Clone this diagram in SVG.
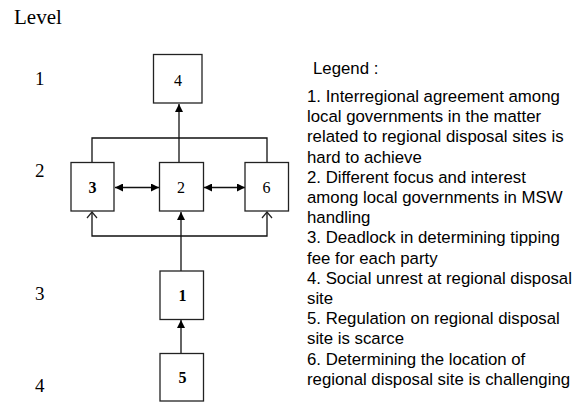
<svg xmlns="http://www.w3.org/2000/svg" width="586" height="403" viewBox="0 0 586 403">
  <style>
    .box { fill: #fff; stroke: #222; stroke-width: 1.3; }
    .lbl { font-family: "Liberation Serif", "Times New Roman", serif; font-size: 16px; fill: #000; text-anchor: middle; }
    .bold { font-weight: bold; }
    .lvl { font-family: "Liberation Serif", "Times New Roman", serif; font-size: 19px; fill: #000; }
    .leg { font-family: "Liberation Sans", Arial, sans-serif; font-size: 16.8px; fill: #000; }
    .wire { fill: none; stroke: #111; stroke-width: 1.3; }
    .chev { fill: none; stroke: #222; stroke-width: 1.2; }
  </style>
  <defs>
    <marker id="solid" viewBox="0 0 10 10" refX="10" refY="5" markerWidth="8" markerHeight="8" markerUnits="userSpaceOnUse" orient="auto-start-reverse">
      <path d="M0,0 L10,5 L0,10 Z" fill="#000"/>
    </marker>
  </defs>

  <!-- level column -->
  <g id="levels">
    <text x="14" y="24" font-family="Liberation Serif, Times New Roman, serif" font-size="21">Level</text>
    <text class="lvl" x="35" y="85">1</text>
    <text class="lvl" x="35" y="177">2</text>
    <text class="lvl" x="35" y="300">3</text>
    <text class="lvl" x="35" y="392">4</text>
  </g>

  <!-- connectors -->
  <g id="connectors">
    <!-- 2 to 4 -->
    <line class="wire" x1="179" y1="162" x2="179" y2="104" marker-end="url(#solid)"/>
    <!-- bracket over 3 and 6 -->
    <polyline class="wire" points="92,162 92,138 267,138 267,162"/>
    <!-- 3 <-> 2 and 2 <-> 6 -->
    <line class="wire" x1="115" y1="187.5" x2="159" y2="187.5" marker-start="url(#solid)" marker-end="url(#solid)"/>
    <line class="wire" x1="204" y1="187.5" x2="245" y2="187.5" marker-start="url(#solid)" marker-end="url(#solid)"/>
    <!-- bracket under 3 and 6, open heads -->
    <polyline class="wire" points="92,212 92,236 267,236 267,212"/>
    <polyline class="chev" points="87,218 92,212 97,218"/>
    <polyline class="chev" points="262,218 267,212 272,218"/>
    <!-- 1 to 2 -->
    <line class="wire" x1="181" y1="271" x2="181" y2="212" marker-end="url(#solid)"/>
    <!-- 5 to 1 -->
    <line class="wire" x1="181" y1="353" x2="181" y2="320" marker-end="url(#solid)"/>
  </g>

  <g id="node4">
    <rect class="box" x="153.5" y="54.5" width="48.5" height="48.5"/>
    <text class="lbl" x="178" y="86">4</text>
  </g>
  <g id="node3">
    <rect class="box" x="71" y="162.5" width="43" height="48.5"/>
    <text class="lbl bold" x="92.5" y="193">3</text>
  </g>
  <g id="node2">
    <rect class="box" x="159.5" y="162.5" width="44" height="48.5"/>
    <text class="lbl" x="181" y="193">2</text>
  </g>
  <g id="node6">
    <rect class="box" x="245" y="162.5" width="43.5" height="48.5"/>
    <text class="lbl" x="266.5" y="193">6</text>
  </g>
  <g id="node1">
    <rect class="box" x="160" y="271" width="43.5" height="48.5"/>
    <text class="lbl bold" x="182.5" y="301">1</text>
  </g>
  <g id="node5">
    <rect class="box" x="160" y="353.5" width="43.5" height="47.5"/>
    <text class="lbl bold" x="182.5" y="383">5</text>
  </g>

  <!-- legend -->
  <g id="legend" class="leg">
    <text x="313" y="74">Legend :</text>
    <text x="307" y="102">1. Interregional agreement among</text>
    <text x="307" y="122.2">local governments in the matter</text>
    <text x="307" y="142.4">related to regional disposal sites is</text>
    <text x="307" y="162.6">hard to achieve</text>
    <text x="307" y="182.8">2. Different focus and interest</text>
    <text x="307" y="203">among local governments in MSW</text>
    <text x="307" y="223.2">handling</text>
    <text x="307" y="243.4">3. Deadlock in determining tipping</text>
    <text x="307" y="263.6">fee for each party</text>
    <text x="307" y="283.8">4. Social unrest at regional disposal</text>
    <text x="307" y="304">site</text>
    <text x="307" y="324.2">5. Regulation on regional disposal</text>
    <text x="307" y="344.4">site is scarce</text>
    <text x="307" y="364.6">6. Determining the location of</text>
    <text x="307" y="384.8">regional disposal site is challenging</text>
  </g>
</svg>
